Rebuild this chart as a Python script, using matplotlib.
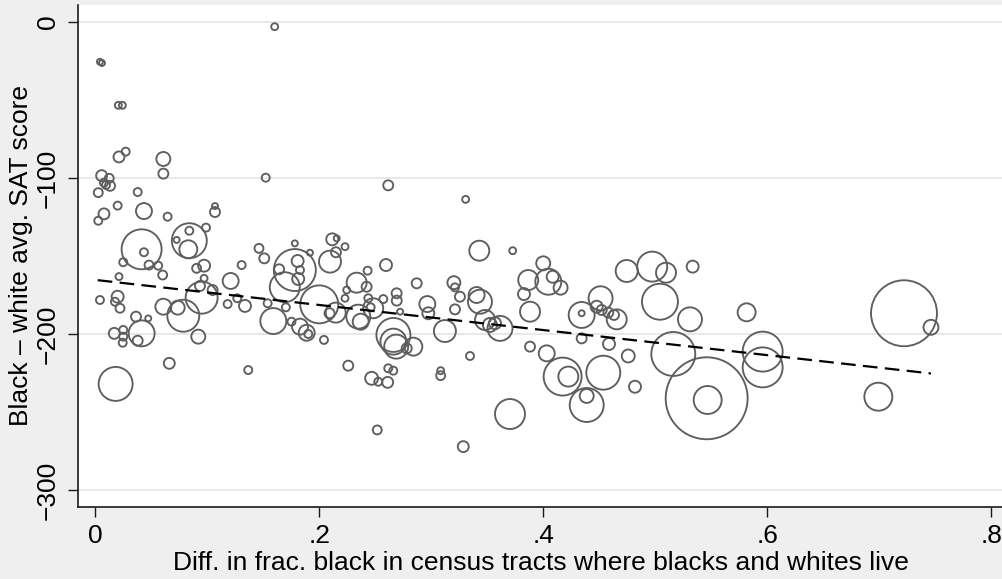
import matplotlib
matplotlib.use("Agg")
import matplotlib.pyplot as plt

# Difference in fraction black of census tracts (black vs. white residents)
frac_diff = [
    0.160, 0.0040, 0.0058, 0.0204, 0.0240, 0.021, 0.027, 0.0606, 0.0606, 0.152,
    0.0055, 0.0123, 0.0076, 0.0094, 0.013, 0.0025, 0.0377, 0.0198, 0.0076, 0.0025,
    0.0433, 0.0644, 0.1067, 0.1067, 0.0412, 0.0838, 0.0838, 0.0987, 0.0725, 0.146,
    0.178, 0.2114, 0.2154, 0.0433, 0.0248, 0.0478, 0.056, 0.060, 0.021, 0.0829,
    0.0903, 0.097, 0.097, 0.0948, 0.0933, 0.1046, 0.1207, 0.1305, 0.1507, 0.178,
    0.169, 0.1805, 0.164, 0.1826, 0.181, 0.1915, 0.2094, 0.1998, 0.209, 0.1588,
    0.1537, 0.170, 0.175, 0.1826, 0.1886, 0.190, 0.204, 0.004, 0.0198, 0.0174,
    0.0219, 0.0606, 0.0734, 0.0784, 0.0918, 0.0362, 0.0471, 0.0412, 0.0377, 0.0248,
    0.0248, 0.0243, 0.0168, 0.118, 0.1266, 0.1335, 0.0659, 0.1364, 0.018, 0.2614,
    0.3305, 0.2228, 0.2147, 0.2594, 0.243, 0.2332, 0.2421, 0.2243, 0.2868, 0.2689,
    0.3427, 0.3725, 0.320, 0.321, 0.3864, 0.3998, 0.3826, 0.2145, 0.2228, 0.2347,
    0.2368, 0.2436, 0.2457, 0.248, 0.257, 0.269, 0.272, 0.266, 0.266, 0.2685,
    0.2838, 0.2779, 0.2257, 0.2466, 0.2525, 0.2609, 0.2614, 0.2659, 0.3082, 0.3082,
    0.2516, 0.3284, 0.2963, 0.2972, 0.321, 0.3254, 0.312, 0.3403, 0.3433, 0.3478,
    0.3522, 0.3567, 0.3612, 0.3344, 0.3701, 0.388, 0.388, 0.4029, 0.4043, 0.4082,
    0.4153, 0.4743, 0.4971, 0.5094, 0.5332, 0.451, 0.504, 0.4341, 0.4341, 0.4475,
    0.452, 0.4579, 0.4654, 0.463, 0.5308, 0.5814, 0.4341, 0.4585, 0.4757, 0.4817,
    0.4171, 0.4222, 0.4534, 0.4386, 0.4386, 0.5159, 0.5457, 0.5466, 0.5957, 0.5957,
    0.7219, 0.746, 0.699,
]

# Black minus white average SAT score
sat_gap = [
    -3, -25.5, -26.3, -53.4, -53.4, -86.5, -83.1, -87.8, -97.2, -99.8,
    -98.5, -100.2, -103, -104.5, -105, -109.4, -109, -117.7, -123, -127.4,
    -121.2, -124.8, -118, -121.8, -145.7, -140.2, -133.8, -131.8, -139.7, -145.1,
    -141.9, -139.3, -138.7, -147.6, -154, -155.8, -156.2, -162.2, -163.2, -145.7,
    -157.9, -156.2, -164.3, -176.7, -169.2, -171.8, -166, -155.8, -151.5, -159,
    -170, -153.2, -158.5, -159, -164.7, -147.9, -153.6, -181, -186.7, -191.7,
    -180.3, -182.9, -192.1, -195.3, -199.2, -200, -203.8, -178.2, -176.1, -179.3,
    -183.5, -182.5, -183.1, -188.3, -201.7, -188.9, -190, -199.6, -204.3, -197.4,
    -201.7, -205.6, -199.6, -180.8, -177.1, -182, -218.8, -223.1, -232, -104.7,
    -113.7, -144, -147.6, -155.8, -159.4, -167.1, -169.7, -171.8, -167.5, -173.9,
    -146.6, -146.6, -167.1, -170.1, -165.4, -154.7, -174.4, -186.3, -177.1, -188.9,
    -192.1, -177.1, -182.9, -183.5, -177.6, -178.6, -185.7, -200.6, -204.9, -208.1,
    -208.1, -209.2, -220.3, -228.4, -230.6, -231, -222, -223.5, -223.5, -226.7,
    -261.5, -272.2, -180.8, -186.7, -184.2, -176.1, -198.1, -175, -179.3, -191,
    -194.2, -193.1, -196.4, -214.1, -251.3, -185.7, -208.1, -212.4, -166.5, -163.3,
    -170.3, -159.6, -156.8, -160.7, -156.8, -177.1, -179.3, -187.8, -186.7, -182.5,
    -184.6, -186.3, -190.6, -187.8, -190.6, -186.1, -202.8, -206.4, -214.1, -233.8,
    -227.3, -227.3, -224.8, -245.5, -239.7, -212.8, -241.2, -242.3, -211.3, -221.4,
    -186.7, -195.7, -240.2,
]

# Analytic weight of each observation (marker area is proportional to it)
weight = [
    12, 9, 9, 12, 12, 30, 16, 49, 25, 16,
    30, 20, 16, 16, 25, 20, 16, 16, 30, 16,
    64, 16, 9, 25, 400, 306, 16, 16, 9, 20,
    9, 36, 9, 16, 16, 20, 16, 20, 12, 81,
    20, 36, 12, 256, 25, 25, 64, 16, 25, 441,
    225, 36, 25, 16, 36, 9, 121, 361, 25, 169,
    16, 16, 16, 64, 64, 16, 16, 16, 36, 16,
    20, 64, 49, 256, 49, 25, 9, 169, 25, 16,
    16, 16, 30, 16, 16, 36, 30, 16, 289, 25,
    12, 12, 25, 36, 16, 100, 25, 12, 25, 25,
    100, 12, 42, 16, 100, 49, 36, 100, 12, 144,
    64, 16, 16, 100, 16, 25, 9, 289, 169, 144,
    81, 25, 25, 42, 16, 30, 16, 16, 12, 20,
    20, 30, 64, 36, 25, 25, 121, 64, 144, 100,
    49, 36, 156, 16, 225, 100, 25, 64, 169, 36,
    49, 121, 225, 100, 36, 144, 324, 169, 9, 36,
    25, 25, 100, 25, 144, 81, 25, 36, 42, 36,
    361, 100, 289, 289, 49, 484, 1681, 196, 400, 400,
    1089, 56, 196,
]

# Weighted linear fit, evaluated at the ends of the data range
fit_x = [0.002, 0.746]
fit_y = [-165.5, -225.3]

x_ticks = [0, 0.2, 0.4, 0.6, 0.8]
x_tick_labels = ["0", ".2", ".4", ".6", ".8"]
y_ticks = [0, -100, -200, -300]
y_tick_labels = ["0", "\u2212100", "\u2212200", "\u2212300"]

plt.rcParams["font.family"] = ["Liberation Sans", "DejaVu Sans"]
plt.rcParams["font.size"] = 19

bg = "#efefef"
fig = plt.figure(figsize=(10.03, 5.79), dpi=100, facecolor=bg)
ax = fig.add_axes([78 / 1003, (579 - 507) / 579, 1 - 78 / 1003, (507 - 5) / 579])
ax.set_facecolor("white")

sizes = [w * 2.07 for w in weight]
ax.scatter(frac_diff, sat_gap, s=sizes, facecolors="none",
           edgecolors="#5e5e5e", linewidths=1.35, zorder=3)

ax.plot(fit_x, fit_y, color="black", linewidth=1.6,
        dashes=(6.6, 3.3), zorder=4)

ax.set_xlim(-0.0156, 0.8103)
ax.set_ylim(-310.9, 10.9)

ax.set_xticks(x_ticks)
ax.set_xticklabels(x_tick_labels)
ax.set_yticks(y_ticks)
ax.set_yticklabels(y_tick_labels, rotation=90, va="center")

ax.grid(axis="y", color="#e6e6e6", linewidth=1.3, zorder=0)
ax.set_axisbelow(True)

for side in ("top", "right"):
    ax.spines[side].set_visible(False)
for side in ("left", "bottom"):
    ax.spines[side].set_color("#1a1a1a")
    ax.spines[side].set_linewidth(1.2)

ax.tick_params(axis="both", direction="out", length=7.2, width=1.0,
               color="#1a1a1a", labelcolor="black")
ax.tick_params(axis="x", pad=5)
ax.tick_params(axis="y", pad=6)

ax.set_xlabel("Diff. in frac. black in census tracts where blacks and whites live",
              labelpad=2)
ax.set_ylabel("Black \u2013 white avg. SAT score", labelpad=2)

fig.savefig("out.png", dpi=100, facecolor=bg)
